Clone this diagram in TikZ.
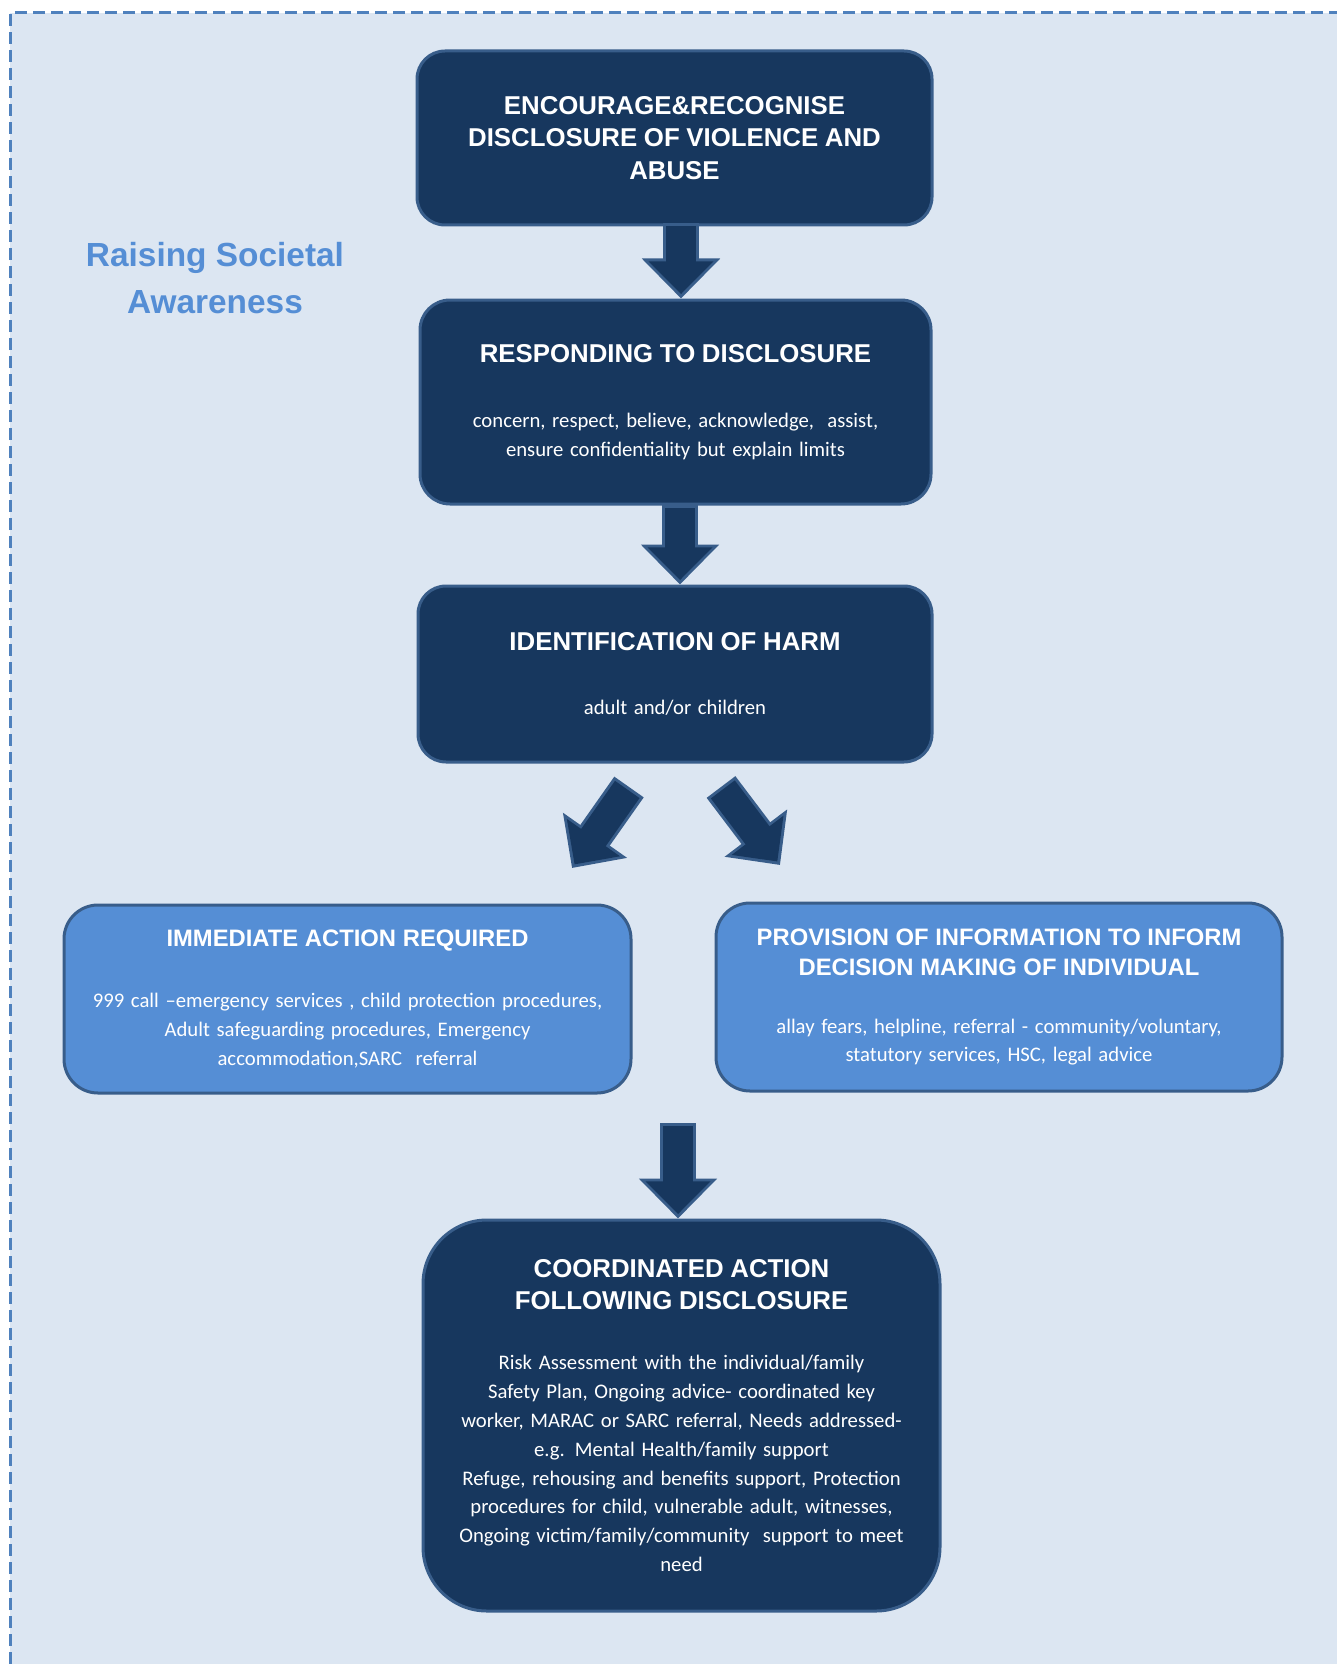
\documentclass[tikz,border=0pt]{standalone}
\usepackage{fontspec}
\setmainfont{Carlito}
\newfontfamily\headfont{Liberation Sans}
\usetikzlibrary{arrows.meta}

\definecolor{bgblue}{HTML}{DCE6F2}
\definecolor{dashblue}{HTML}{4F81BD}
\definecolor{navy}{HTML}{17375E}
\definecolor{navyedge}{HTML}{385D8A}
\definecolor{midblue}{HTML}{558ED5}

\newcommand{\tf}{\headfont\bfseries\fontsize{12.9}{16.2}\selectfont}
\newcommand{\sidetf}{\headfont\bfseries\fontsize{11.9}{14.9}\selectfont}
\newcommand{\bodyf}{\fontsize{10.35}{14.4}\selectfont}

\begin{document}
\begin{tikzpicture}[x=0.5pt,y=-0.5pt,
	darkbox/.style={draw=navyedge, fill=navy, line width=1.5pt, text=white, align=center, inner sep=0pt, rounded corners=14pt},
	lightbox/.style={draw=navyedge, fill=midblue, line width=1.5pt, text=white, align=center, inner sep=0pt, rounded corners=17pt},
	blockarrow/.style={line width=18pt, draw=navyedge, -{Triangle[width=38pt,length=20pt]}},
	blockarrowin/.style={line width=15pt, draw=navy, -{Triangle[width=31.5pt,length=16.4pt]}, shorten >=2.2pt, shorten <=1.5pt}]
	\useasboundingbox (0,0) rectangle (1337,1664);
	% background and dashed frame
	\fill[bgblue] (10,13) rectangle (1337,1664);
	\draw[dashblue, line width=1.5pt, dash pattern=on 6pt off 3pt] (10,1664) -- (10,13) -- (1337,13);

	\node[text=midblue, font=\headfont\bfseries\fontsize{16.7}{23.9}\selectfont, align=center] (raising) at (215,278) {Raising Societal\\Awareness};

	% boxes
	\node[darkbox, minimum width=257.5pt, minimum height=87pt, text width=245pt] (encourage) at (674.5,138)
	{{\tf ENCOURAGE\&RECOGNISE\\DISCLOSURE OF VIOLENCE AND\\ABUSE\par}};
	\node[darkbox, minimum width=255.5pt, minimum height=102pt, text width=245pt, rounded corners=15pt] (responding) at (675.5,402)
	{{\tf RESPONDING TO DISCLOSURE\par}\vspace{18pt}{\bodyf concern, respect, believe, acknowledge,~ assist,\\ensure confidentiality but explain limits\par}};
	\node[darkbox, minimum width=257pt, minimum height=88pt, text width=245pt] (harm) at (675,674)
	{{\tf IDENTIFICATION OF HARM\par}\vspace{17.6pt}{\bodyf adult and/or children\par}};
	\node[lightbox, minimum width=283.5pt, minimum height=94pt, text width=275pt] (immediate) at (347.5,999)
	{{\sidetf IMMEDIATE ACTION REQUIRED\par}\vspace{16pt}{\bodyf 999 call –emergency services , child protection procedures,\\Adult safeguarding procedures, Emergency\\accommodation,SARC~ referral\par}};
	\node[lightbox, minimum width=283pt, minimum height=94pt, text width=275pt] (provision) at (999,997)
	{{\sidetf PROVISION OF INFORMATION TO INFORM\\DECISION MAKING OF INDIVIDUAL\par}\vspace{14.6pt}{\bodyf allay fears, helpline, referral - community/voluntary,\\statutory services, HSC, legal advice\par}};
	\node[darkbox, minimum width=258.5pt, minimum height=195.5pt, text width=250pt, rounded corners=32pt] (coordinated) at (681.5,1415.5)
	{{\tf COORDINATED ACTION\\FOLLOWING DISCLOSURE\par}\vspace{15.6pt}{\bodyf Risk Assessment with the individual/family\\Safety Plan, Ongoing advice- coordinated key\\worker, MARAC or SARC referral, Needs addressed-\\e.g. Mental Health/family support\\Refuge, rehousing and benefits support, Protection\\procedures for child, vulnerable adult, witnesses,\\Ongoing victim/family/community~ support to meet\\need\par}};

	% block arrows
	\coordinate (t1) at (681,223);
	\coordinate (t2) at (680,505);
	\coordinate (tl) at (629,787);
	\coordinate (hl) at (572,868);
	\coordinate (tr) at (721,787);
	\coordinate (hr) at (780,865);
	\coordinate (t4) at (678,1123);
	\draw[blockarrow] (t1) -- (t1 |- responding.north);
	\draw[blockarrowin] (t1) -- (t1 |- responding.north);
	\draw[blockarrow] (t2) -- (t2 |- harm.north);
	\draw[blockarrowin] (t2) -- (t2 |- harm.north);
	\draw[blockarrow] (tl) -- (hl);
	\draw[blockarrowin] (tl) -- (hl);
	\draw[blockarrow] (tr) -- (hr);
	\draw[blockarrowin] (tr) -- (hr);
	\draw[blockarrow] (t4) -- (t4 |- coordinated.north);
	\draw[blockarrowin] (t4) -- (t4 |- coordinated.north);
\end{tikzpicture}
\end{document}
